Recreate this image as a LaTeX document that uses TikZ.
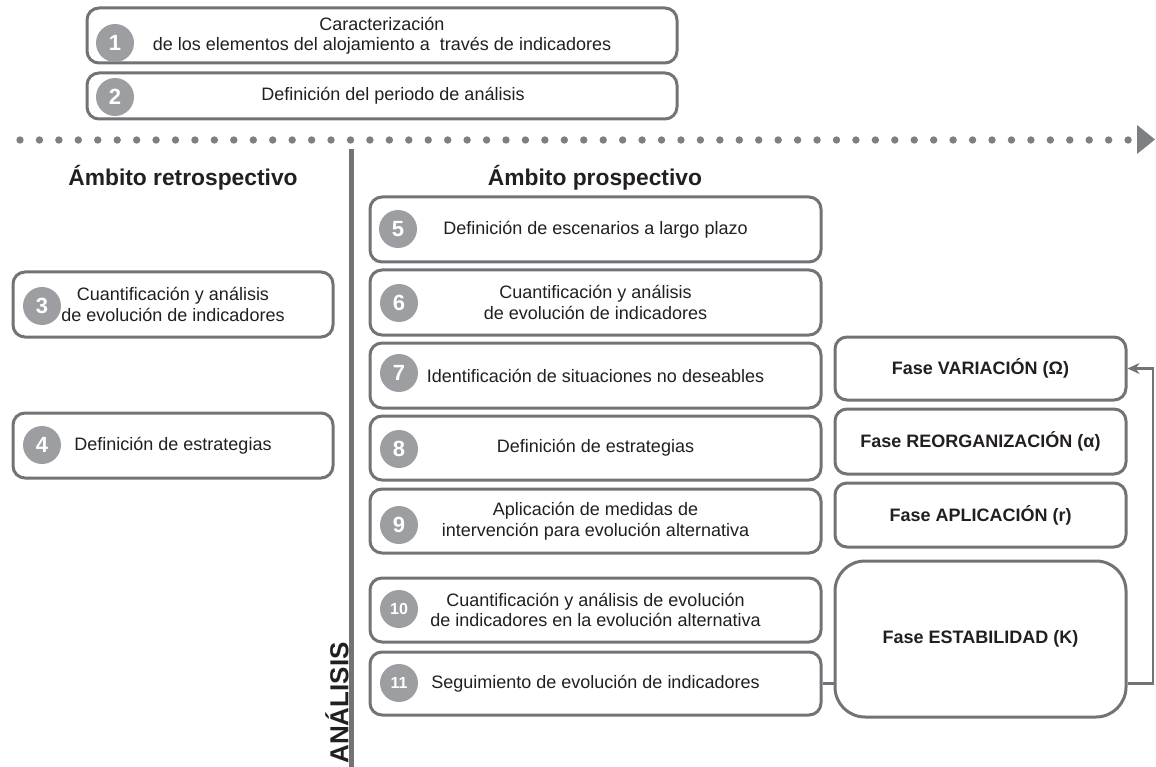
\documentclass[tikz,border=0pt]{standalone}
\usepackage{fontspec}
\setmainfont{Liberation Sans}
\usetikzlibrary{arrows.meta}
\definecolor{boxgray}{HTML}{727377}
\definecolor{circgray}{HTML}{9D9EA1}
\definecolor{dotgray}{HTML}{7E7F83}
\definecolor{divgray}{HTML}{737478}
\definecolor{txt}{HTML}{231F20}
\tikzset{
  stepbox/.style={draw=boxgray, line width=3pt, rounded corners=12pt, fill=white,
    align=center, text=txt, font=\fontsize{18}{20.5}\selectfont, inner sep=0pt},
  fasebox/.style={stepbox, font=\fontsize{18}{20.5}\selectfont\bfseries, minimum width=291pt},
  numc/.style={circle, fill=circgray, minimum size=38pt, inner sep=0pt, text=white,
    font=\fontsize{22}{22}\selectfont\bfseries},
  numcc/.style={numc, font=\fontsize{16}{16}\selectfont\bfseries},
  head/.style={text=txt, font=\fontsize{22.8}{24}\selectfont\bfseries, inner sep=0pt},
  conn/.style={draw=boxgray, line width=2.5pt},
}
\begin{document}
\begin{tikzpicture}[x=1pt,y=-1pt]
\useasboundingbox (0,0) rectangle (1156,767);
% top boxes
\node[stepbox, minimum width=590pt, minimum height=55pt] (b1) at (382,35.5)
  {Caracterización\\de los elementos del alojamiento a\ \ través de indicadores};
\node[stepbox, minimum width=590pt, minimum height=46pt] (b2) at (382,96) {};
\node[text=txt, font=\fontsize{18}{20.5}\selectfont, inner sep=0pt] (t2) at (393,96) {Definición del periodo de análisis};
\node[numc] (c1) at (115,43) {1};
\node[numc] (c2) at (115,97) {2};
% dotted timeline
\foreach \i in {0,...,57} \fill[dotgray] (20+\i*19.44,140) circle (3.7pt);
\fill[dotgray] (1137,125) -- (1155,139.5) -- (1137,154) -- cycle;
% divider
\draw[divgray, line width=5pt] (351,149) -- (351,767);
% headings
\node[head] (hr) at (183,178) {Ámbito retrospectivo};
\node[head] (hp) at (595,178) {Ámbito prospectivo};
% left column
\node[stepbox, minimum width=320pt, minimum height=65pt] (b3) at (173,304.5)
  {Cuantificación y análisis\\de evolución de indicadores};
\node[stepbox, minimum width=320pt, minimum height=65pt] (b4) at (173,445.5)
  {Definición de estrategias};
\node[numc] (c3) at (42,306) {3};
\node[numc] (c4) at (42,445) {4};
% right column
\node[stepbox, minimum width=451pt, minimum height=65pt] (b5) at (595.5,229.5)
  {Definición de escenarios a largo plazo};
\node[stepbox, minimum width=451pt, minimum height=65pt] (b6) at (595.5,302.5)
  {Cuantificación y análisis\\de evolución de indicadores};
\node[stepbox, minimum width=451pt, minimum height=65pt] (b7) at (595.5,375.5)
  {Identificación de situaciones no deseables};
\node[stepbox, minimum width=451pt, minimum height=64pt] (b8) at (595.5,448)
  {Definición de estrategias};
\node[stepbox, minimum width=451pt, minimum height=64pt] (b9) at (595.5,521)
  {Aplicación de medidas de\\intervención para evolución alternativa};
\node[stepbox, minimum width=451pt, minimum height=64pt] (b10) at (595.5,610)
  {Cuantificación y análisis de evolución\\de indicadores en la evolución alternativa};
\node[stepbox, minimum width=451pt, minimum height=63pt] (b11) at (595.5,683.5)
  {Seguimiento de evolución de indicadores};
\node[numc] (c5) at (398,229) {5};
\node[numc] (c6) at (399,303) {6};
\node[numc] (c7) at (399,373) {7};
\node[numc] (c8) at (399,449) {8};
\node[numc] (c9) at (399,525) {9};
\node[numcc] (c10) at (399,609) {10};
\node[numcc] (c11) at (399,683) {11};
% phases
\node[fasebox, minimum height=63pt] (fV) at (980.5,368.5) {Fase VARIACIÓN (Ω)};
\node[fasebox, minimum height=65pt] (fR) at (980.5,441.5) {Fase REORGANIZACIÓN (α)};
\node[fasebox, minimum height=64pt] (fA) at (980.5,515) {Fase APLICACIÓN (r)};
\node[fasebox, minimum height=156pt, rounded corners=30pt] (fE) at (980.5,639) {Fase ESTABILIDAD (K)};
% label
\node[rotate=90, text=txt, font=\fontsize{26}{26}\selectfont\bfseries, inner sep=0pt] (an) at (337,703) {ANÁLISIS};
% connectors
\coordinate (rt) at (1153,0);
\draw[conn] (b11.east) -- (b11.east -| fE.west);
\draw[conn, -{Stealth[length=12pt,width=11pt]}] (b11.east -| fE.east) -- (b11.east -| rt) |- (fV.east);
\end{tikzpicture}
\end{document}
